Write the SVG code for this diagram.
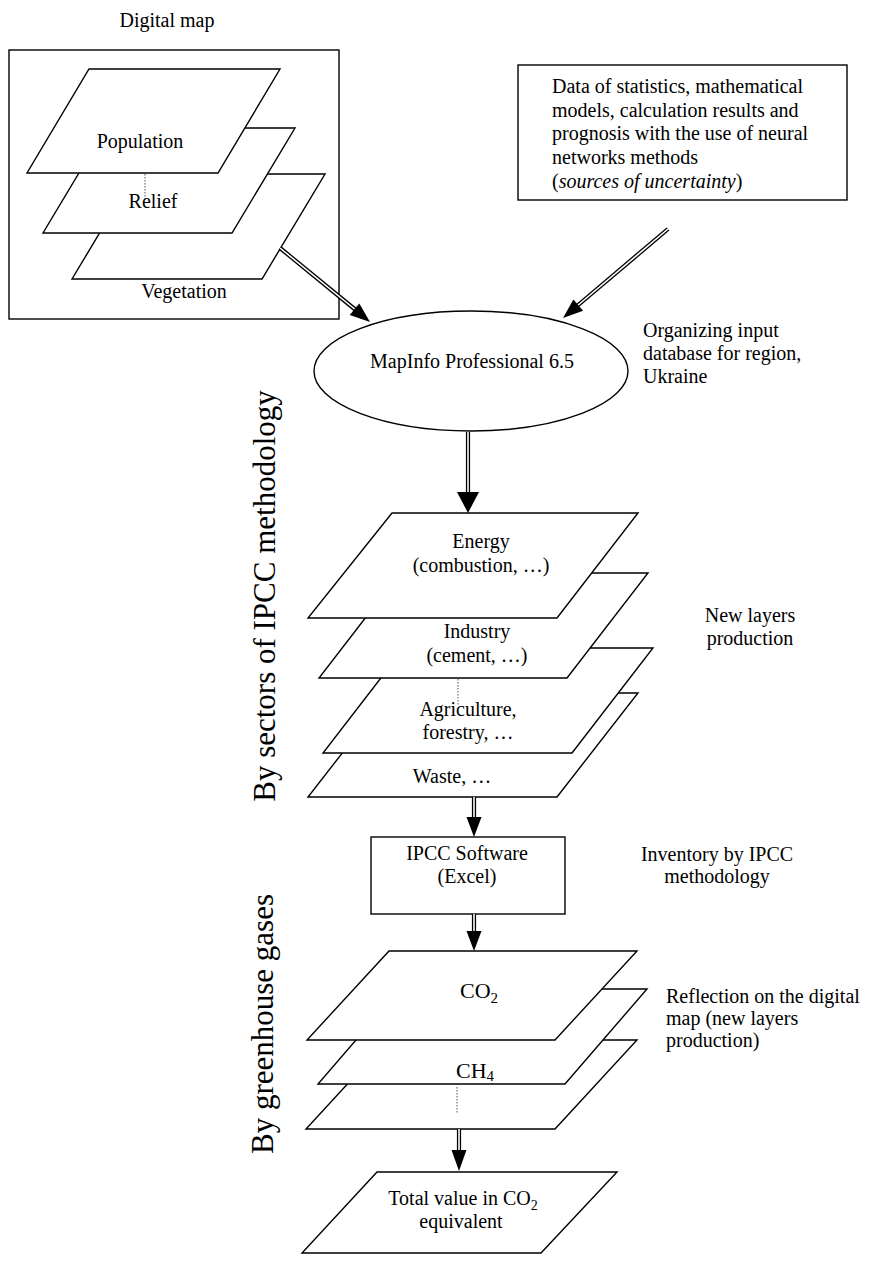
<svg xmlns="http://www.w3.org/2000/svg" width="873" height="1262" viewBox="0 0 873 1262">
<style>
.sh{fill:#fff;stroke:#000;stroke-width:1.4}
.t{font-family:"Liberation Serif","Times New Roman","DejaVu Serif",serif;font-size:20px;fill:#000}
.c{text-anchor:middle}
.big{font-size:31px}
.gas{font-size:22px}
.dot{stroke:#555;stroke-width:1;stroke-dasharray:1.5,1.5;fill:none}
.dbo{stroke:#000;stroke-width:4.2;fill:none}
.dbi{stroke:#fff;stroke-width:1.6;fill:none}
.hd{fill:#000;stroke:none}
</style>
<rect width="873" height="1262" fill="#fff"/>
<g id="digital-map">
<text class="t c" x="167" y="27">Digital map</text>
<rect class="sh" x="9" y="50" width="330" height="269"/>
<polygon class="sh" points="135,174 325,174 262,279 72,279"/>
<polygon class="sh" points="106,128 295,128 232,233 43,233"/>
<polygon class="sh" points="89,69 280,69 218,173 27,173"/>
<line class="dot" x1="145" y1="174" x2="145" y2="200"/>
<text class="t c" x="140" y="148">Population</text>
<text class="t c" x="153" y="208">Relief</text>
<text class="t c" x="184" y="298">Vegetation</text>
</g>
<g id="data-sources">
<rect class="sh" x="518" y="65" width="329" height="135"/>
<text class="t" x="552" y="93">Data of statistics, mathematical</text>
<text class="t" x="552" y="117">models, calculation results and</text>
<text class="t" x="552" y="140">prognosis with the use of neural</text>
<text class="t" x="552" y="164">networks methods</text>
<text class="t" x="552" y="188">(<tspan font-style="italic">sources of uncertainty</tspan>)</text>
</g>
<g id="mapinfo">
<ellipse class="sh" cx="471" cy="371" rx="157" ry="60"/>
<text class="t c" x="472" y="368">MapInfo Professional 6.5</text>
<text class="t" x="643" y="337">Organizing input</text>
<text class="t" x="643" y="360">database for region,</text>
<text class="t" x="643" y="383">Ukraine</text>
</g>
<g id="sector-layers">
<polygon class="sh" points="389,693 638,693 557,797 308,797"/>
<polygon class="sh" points="404,648 653,648 572,753 323,753"/>
<polygon class="sh" points="400,573 648,573 567,678 319,678"/>
<polygon class="sh" points="392,513 638,513 557,618 308,618"/>
<line class="dot" x1="458" y1="679" x2="458" y2="705"/>
<text class="t c" x="481" y="548">Energy</text>
<text class="t c" x="481" y="572">(combustion, …)</text>
<text class="t c" x="477" y="638">Industry</text>
<text class="t c" x="477" y="662">(cement, …)</text>
<text class="t c" x="468" y="716">Agriculture,</text>
<text class="t c" x="468" y="739">forestry, …</text>
<text class="t c" x="452" y="783">Waste, …</text>
<text class="t c" x="750" y="622">New layers</text>
<text class="t c" x="750" y="645">production</text>
<text class="t c big" transform="translate(275,596) rotate(-90)">By sectors of IPCC methodology</text>
</g>
<g id="ipcc-software">
<rect class="sh" x="371" y="837" width="194" height="77"/>
<text class="t c" x="467" y="860">IPCC Software</text>
<text class="t c" x="467" y="883">(Excel)</text>
<text class="t c" x="717" y="861">Inventory by IPCC</text>
<text class="t c" x="717" y="883">methodology</text>
</g>
<g id="gas-layers">
<polygon class="sh" points="388,1040 637,1040 555,1129 306,1129"/>
<polygon class="sh" points="400,989 647,989 565,1084 318,1084"/>
<polygon class="sh" points="389,951 637,951 555,1040 307,1040"/>
<line class="dot" x1="457" y1="1087" x2="457" y2="1113"/>
<text class="t c gas" x="479" y="998">CO<tspan font-size="15" dy="5">2</tspan></text>
<text class="t c gas" x="475" y="1078">CH<tspan font-size="15" dy="3">4</tspan></text>
<text class="t" x="666" y="1003">Reflection on the digital</text>
<text class="t" x="666" y="1025">map (new layers</text>
<text class="t" x="666" y="1047">production)</text>
<text class="t c big" transform="translate(273,1024) rotate(-90)">By greenhouse gases</text>
</g>
<g id="total">
<polygon class="sh" points="377,1172 617,1172 541,1253 302,1253"/>
<text class="t c" x="463" y="1205">Total value in CO<tspan font-size="14" dy="5">2</tspan></text>
<text class="t c" x="461" y="1228">equivalent</text>
</g>
<g id="connectors">
<line class="dbo" x1="280" y1="248" x2="357" y2="311"/>
<line class="dbi" x1="280" y1="248" x2="357" y2="311"/>
<polygon class="hd" points="370,322 349.7,315.1 359.3,303.5"/>
<line class="dbo" x1="668" y1="229" x2="577" y2="306"/>
<line class="dbi" x1="668" y1="229" x2="577" y2="306"/>
<polygon class="hd" points="563,318 573.4,299.4 583.1,310.8"/>
<line class="dbo" x1="468" y1="432" x2="468" y2="494"/>
<line class="dbi" x1="468" y1="432" x2="468" y2="494"/>
<polygon class="hd" points="457,492 479,492 468,513"/>
<line class="dbo" x1="474" y1="797" x2="474" y2="819"/>
<line class="dbi" x1="474" y1="797" x2="474" y2="819"/>
<polygon class="hd" points="466.5,817 481.5,817 474,837"/>
<line class="dbo" x1="474" y1="914" x2="474" y2="933"/>
<line class="dbi" x1="474" y1="914" x2="474" y2="933"/>
<polygon class="hd" points="466.5,931 481.5,931 474,951"/>
<line class="dbo" x1="459" y1="1129" x2="459" y2="1152"/>
<line class="dbi" x1="459" y1="1129" x2="459" y2="1152"/>
<polygon class="hd" points="451.5,1150 466.5,1150 459,1171"/>
</g>
</svg>
